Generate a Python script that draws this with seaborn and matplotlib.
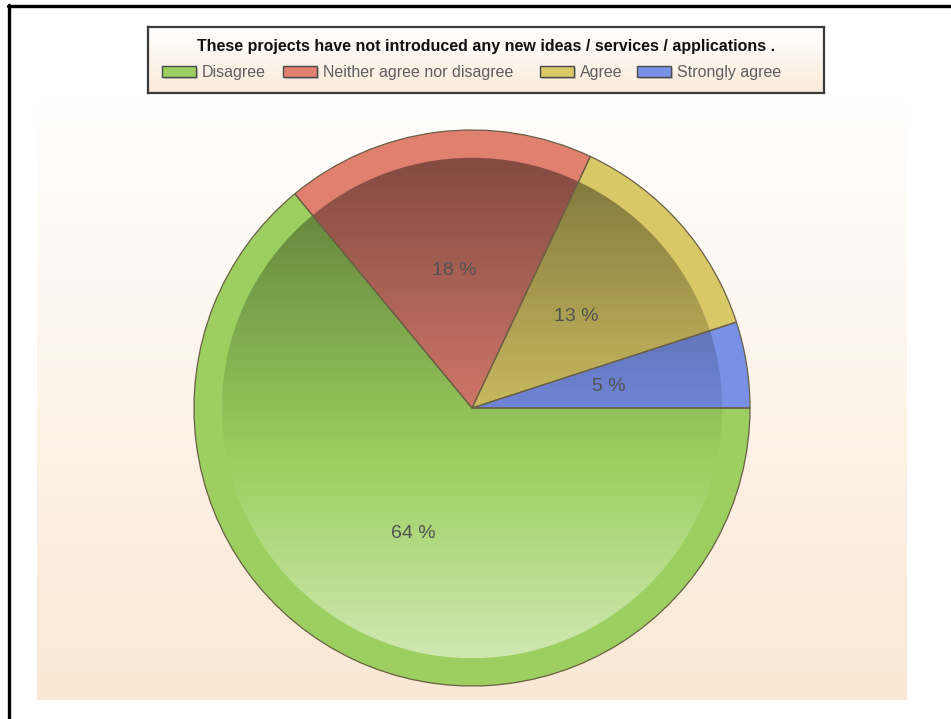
import numpy as np
import matplotlib
matplotlib.use("Agg")
import matplotlib.pyplot as plt
import seaborn as sns
from matplotlib.patches import Rectangle, Circle
from matplotlib.lines import Line2D
from matplotlib.colors import to_rgb

# Survey answers and their shares
categories = ["Disagree", "Neither agree nor disagree", "Agree", "Strongly agree"]
shares = [64, 18, 13, 5]
colors = ["#9CCF5F", "#E0806F", "#D8C866", "#7890E6"]
chart_title = "These projects have not introduced any new ideas / services / applications ."

sns.set_style("white")
plt.rcParams["font.family"] = ["Liberation Sans", "DejaVu Sans"]

W, H = 951, 719
fig = plt.figure(figsize=(W / 100, H / 100), dpi=100)
fig.patch.set_facecolor("white")


def fig_rect(x0, y0, x1, y1):
    """Pixel box (top-left origin) -> figure-fraction rect."""
    return [x0 / W, 1 - y1 / H, (x1 - x0) / W, (y1 - y0) / H]


def vgrad(top, bottom, n=256):
    t = np.linspace(0, 1, n)[:, None]
    a, b = np.array(to_rgb(top)), np.array(to_rgb(bottom))
    return (a * (1 - t) + b * t)[:, None, :]


# Plot-area background: white fading into a light peach
bg = fig.add_axes(fig_rect(37, 100, 907, 700), zorder=0)
bg.imshow(vgrad("#FFFFFF", "#FAE8D4"), aspect="auto", extent=(0, 1, 0, 1),
          interpolation="bilinear")
bg.set_axis_off()

# Pie axes: centre (472, 408) px, radius 278 px, data radius 1
cx, cy, rpx = 472, 408, 278
half = rpx * 1.1
ax = fig.add_axes(fig_rect(cx - half, cy - half, cx + half, cy + half), zorder=2)

# Outer rim in the base colours
ax.pie(shares, colors=colors, startangle=0, counterclock=False, radius=1.0,
       wedgeprops=dict(linewidth=0))
# Inner disc, then a vertical shading across it
inner_r = 0.9
ax.pie(shares, colors=colors, startangle=0, counterclock=False, radius=inner_r,
       wedgeprops=dict(linewidth=0))

n = 400
ys = np.linspace(inner_r, -inner_r, n)
shade = np.zeros((n, 1, 4))
neutral = -0.2
for i, y in enumerate(ys):
    if y >= neutral:
        shade[i, 0, :3] = 0.0
        shade[i, 0, 3] = 0.42 * (y - neutral) / (inner_r - neutral)
    else:
        shade[i, 0, :3] = 1.0
        shade[i, 0, 3] = 0.52 * (neutral - y) / (neutral + inner_r)
img = ax.imshow(shade, extent=(-inner_r, inner_r, -inner_r, inner_r),
                aspect="auto", interpolation="bilinear", zorder=3)
img.set_clip_path(Circle((0, 0), inner_r, transform=ax.transData))

# Slice outlines and percentage labels on top
wedges, _, autotexts = ax.pie(
    shares, colors=["none"] * len(shares), startangle=0, counterclock=False,
    radius=1.0, autopct=lambda p: f"{p:.0f} %", pctdistance=0.5,
    wedgeprops=dict(linewidth=0.9, edgecolor="#6A5E45"),
    textprops=dict(fontsize=14, color="#525252"))
for w in wedges:
    w.set_zorder(4)
for t in autotexts:
    t.set_zorder(5)

ax.set_xlim(-1.1, 1.1)
ax.set_ylim(-1.1, 1.1)
ax.set_aspect("auto")
ax.set_axis_off()

# Legend box with title and swatches
lx0, ly0, lx1, ly1 = 148, 27, 824, 93
lg = fig.add_axes(fig_rect(lx0, ly0, lx1, ly1), zorder=6)
lg.set_xlim(lx0, lx1)
lg.set_ylim(ly1, ly0)
lg.imshow(vgrad("#FFFFFF", "#FBEBDA"), aspect="auto",
          extent=(lx0, lx1, ly1, ly0), interpolation="bilinear")
lg.set_xticks([])
lg.set_yticks([])
for s in lg.spines.values():
    s.set_color("#3A3A3A")
    s.set_linewidth(1.6)

lg.text((lx0 + lx1) / 2, 46, chart_title, ha="center", va="center",
        fontsize=11.5, fontweight="bold", color="#111111",
        family=["Liberation Sans Narrow", "Liberation Sans", "DejaVu Sans"])

swatch_x = [162, 283, 540, 637]
row_y = 72
for x, lab, col in zip(swatch_x, categories, colors):
    lg.add_patch(Rectangle((x + 2, row_y - 4), 34, 11, facecolor="#000000",
                           alpha=0.18, linewidth=0))
    lg.add_patch(Rectangle((x, row_y - 6), 34, 11, facecolor=col,
                           edgecolor="#4A4A4A", linewidth=1.0))
    lg.text(x + 40, row_y, lab, ha="left", va="center", fontsize=11.5,
            color="#5E5E5E")

# Frame lines along the left and top edges
fig.add_artist(Line2D([8.5 / W, 8.5 / W], [0, 1 - 5 / H], transform=fig.transFigure,
                      color="black", linewidth=2.4))
fig.add_artist(Line2D([8 / W, 1], [1 - 5.5 / H, 1 - 5.5 / H], transform=fig.transFigure,
                      color="black", linewidth=2.4))

fig.savefig("out.png", dpi=100)
